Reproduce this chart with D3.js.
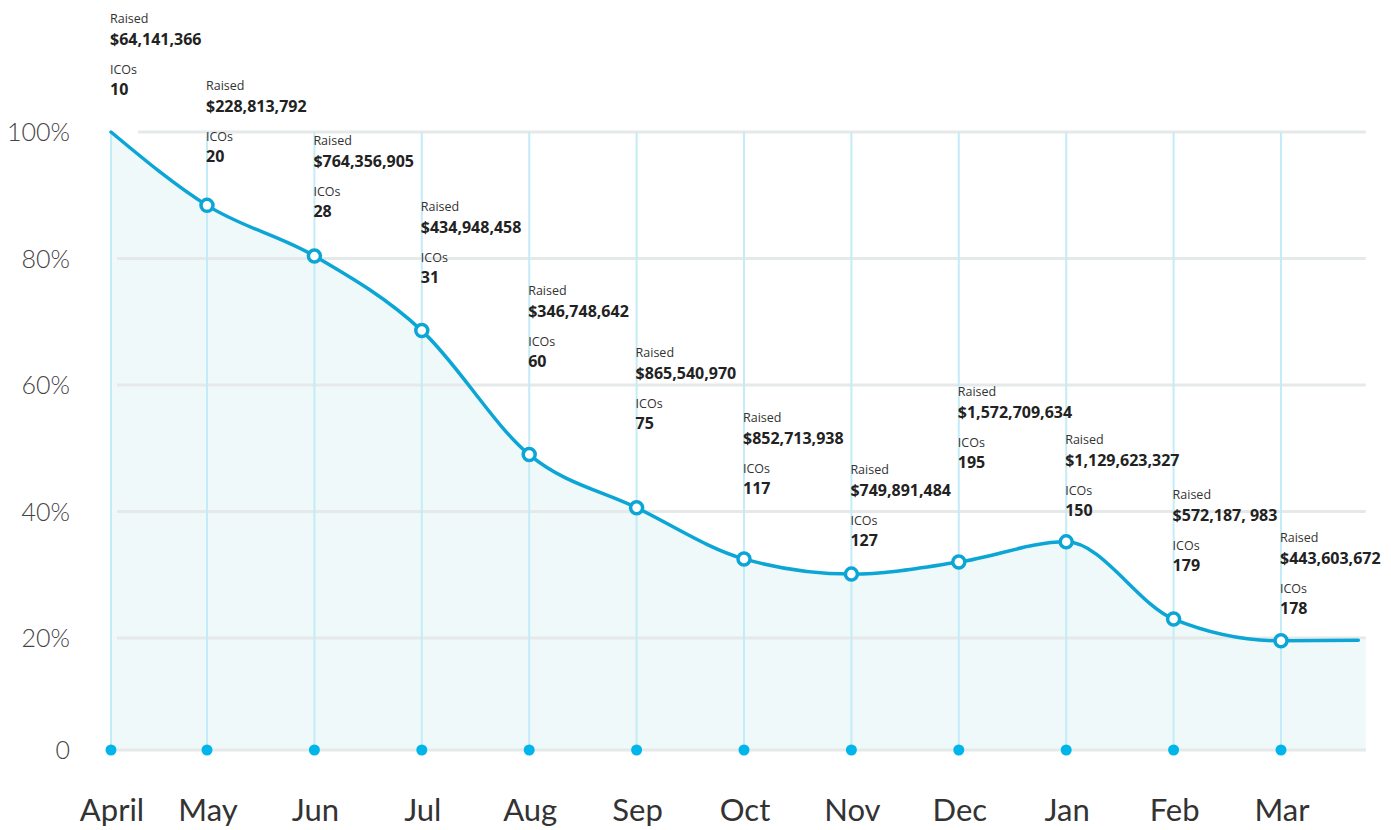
<!DOCTYPE html>
<html>
<head>
<meta charset="utf-8">
<script src="https://cdn.jsdelivr.net/npm/d3@7"></script>
<style>
  html, body { margin: 0; padding: 0; background: #fff; }
  svg { display: block; }
</style>
</head>
<body>
<svg id="chart" width="1391" height="830"></svg>
<script>
// ---- data ----
const months = ["April", "May", "Jun", "Jul", "Aug", "Sep", "Oct", "Nov", "Dec", "Jan", "Feb", "Mar"];
const share = [100, 88.4, 80.4, 68.6, 49, 40.6, 32.5, 30.1, 32, 35.2, 23, 19.5];
const tailShare = 19.6; // line continues a little past Mar
const raised = ["$64,141,366", "$228,813,792", "$764,356,905", "$434,948,458", "$346,748,642",
  "$865,540,970", "$852,713,938", "$749,891,484", "$1,572,709,634", "$1,129,623,327",
  "$572,187, 983", "$443,603,672"];
const icos = [10, 20, 28, 31, 60, 75, 117, 127, 195, 150, 179, 178];
const yTicks = [0, 20, 40, 60, 80, 100];
const yTickLabels = ["0", "20%", "40%", "60%", "80%", "100%"];
// label block anchor, in y-axis units
const labelAnchor = [117.3, 106.7, 97.9, 87.5, 74.3, 64.5, 54.2, 46.0, 58.3, 50.7, 41.9, 35.2];

// ---- layout ----
const svg = d3.select("#chart");
const lineColor = "#0ba6d6";
const dotColor = "#00b5ea";

const x = d3.scaleLinear().domain([0, 1, months.length - 1]).range([111, 207, 1281]);
const tailIndex = months.length - 1 + 0.72;
const y = d3.scaleLinear().domain([0, 20, 100]).range([750, 638, 132]);

const pts = share.map((v, i) => ({ i, v }));
const linePts = pts.concat([{ i: tailIndex, v: tailShare }]);

// area
const area = d3.area()
  .x(d => x(d.i)).y0(y(0)).y1(d => y(d.v))
  .curve(d3.curveMonotoneX);
const areaPts = linePts.concat([{ i: tailIndex + 0.07, v: tailShare }]);
svg.append("path").datum(areaPts)
  .attr("d", area)
  .attr("fill", "#f0f9f9");

// horizontal gridlines
svg.append("g").selectAll("line").data(yTicks).join("line")
  .attr("x1", d => d === 100 ? 138 : 117)
  .attr("x2", x(tailIndex + 0.07))
  .attr("y1", d => y(d)).attr("y2", d => y(d))
  .attr("stroke", "#e6e9ea").attr("stroke-width", 3);

// y tick labels
svg.append("g").selectAll("text").data(yTicks).join("text")
  .attr("x", 70)
  .attr("y", d => y(d) + 9)
  .attr("text-anchor", "end")
  .attr("font-family", "Lato, 'Open Sans', sans-serif")
  .attr("font-weight", 300)
  .attr("font-size", 25)
  .attr("fill", "#444")
  .text((d, i) => yTickLabels[i]);

// vertical month lines
svg.append("g").selectAll("line").data(pts).join("line")
  .attr("x1", d => x(d.i)).attr("x2", d => x(d.i))
  .attr("y1", d => d.i === 0 ? y(d.v) : y(100))
  .attr("y2", y(0))
  .attr("stroke", "#c3ecf8").attr("stroke-width", 2);

// main line
const line = d3.line().x(d => x(d.i)).y(d => y(d.v)).curve(d3.curveMonotoneX);
svg.append("path").datum(linePts)
  .attr("d", line)
  .attr("fill", "none")
  .attr("stroke", lineColor)
  .attr("stroke-width", 3.5)
  .attr("stroke-linecap", "round");

// markers (not on April)
svg.append("g").selectAll("circle").data(pts.slice(1)).join("circle")
  .attr("cx", d => x(d.i)).attr("cy", d => y(d.v))
  .attr("r", 6)
  .attr("fill", "#fff")
  .attr("stroke", lineColor)
  .attr("stroke-width", 3.5);

// baseline dots
svg.append("g").selectAll("circle").data(pts).join("circle")
  .attr("cx", d => x(d.i)).attr("cy", y(0))
  .attr("r", 5.5)
  .attr("fill", dotColor);

// month labels
svg.append("g").selectAll("text").data(pts).join("text")
  .attr("x", d => x(d.i) + 1)
  .attr("y", 821)
  .attr("text-anchor", "middle")
  .attr("font-family", "Lato, 'Open Sans', sans-serif")
  .attr("font-size", 31)
  .attr("fill", "#333")
  .text(d => months[d.i]);

// annotations
const ann = svg.append("g").attr("font-family", "'Open Sans', 'Noto Sans', sans-serif");
pts.forEach(d => {
  const gx = x(d.i) - 1;
  const gy = y(labelAnchor[d.i]);
  const g = ann.append("g").attr("transform", `translate(${gx},${gy})`);
  g.append("text").attr("y", 0).attr("font-size", 12.5).attr("fill", "#333").text("Raised");
  g.append("text").attr("y", 22).attr("font-size", 16).attr("font-weight", 700).attr("fill", "#222").text(raised[d.i]);
  g.append("text").attr("y", 51).attr("font-size", 12.5).attr("fill", "#333").text("ICOs");
  g.append("text").attr("y", 72).attr("font-size", 16).attr("font-weight", 700).attr("fill", "#222").text(icos[d.i]);
});
</script>
</body>
</html>
